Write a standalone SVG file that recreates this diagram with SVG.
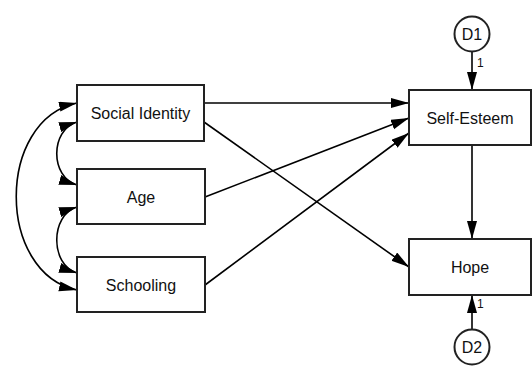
<svg xmlns="http://www.w3.org/2000/svg" width="532" height="369" viewBox="0 0 532 369">
<style>
.box{fill:#fff;stroke:#222;stroke-width:2}
.lbl{font-family:"Liberation Sans",Arial,sans-serif;font-size:16px;fill:#111;text-anchor:middle}
.one{font-family:"Liberation Sans",Arial,sans-serif;font-size:12px;fill:#111}
.ln{fill:none;stroke:#000;stroke-width:1.6}
</style>
<defs>
<marker id="ah" markerUnits="userSpaceOnUse" markerWidth="19" markerHeight="11" refX="18" refY="5" orient="auto-start-reverse">
<path d="M0,0 L18,5 L0,10 z" fill="#000"/>
</marker>
</defs>
<g id="connectors">
<path class="ln" d="M204,103 L409,103" marker-end="url(#ah)"/>
<path class="ln" d="M204,122 L409,267" marker-end="url(#ah)"/>
<path class="ln" d="M205,197 L409,118" marker-end="url(#ah)"/>
<path class="ln" d="M205,285 L409,133" marker-end="url(#ah)"/>
<path class="ln" d="M472,145 L472,239" marker-end="url(#ah)"/>
<path class="ln" d="M472,51 L472,90" marker-end="url(#ah)"/>
<path class="ln" d="M472,329 L472,295" marker-end="url(#ah)"/>
<path class="ln" d="M77,122 C50,130 50,177 77,185" marker-start="url(#ah)" marker-end="url(#ah)"/>
<path class="ln" d="M77,207 C50,215 50,265 77,273" marker-start="url(#ah)" marker-end="url(#ah)"/>
<path class="ln" d="M77,103 C-4,120 -4,273 77,290" marker-start="url(#ah)" marker-end="url(#ah)"/>
<text class="one" x="477" y="67">1</text>
<text class="one" x="477" y="308">1</text>
</g>
<g id="social-identity"><rect class="box" x="77" y="85" width="127" height="56"/><text class="lbl" x="140.5" y="119">Social Identity</text></g>
<g id="age"><rect class="box" x="77" y="169" width="128" height="55"/><text class="lbl" x="141" y="202.5">Age</text></g>
<g id="schooling"><rect class="box" x="77" y="257" width="128" height="55"/><text class="lbl" x="141" y="290.5">Schooling</text></g>
<g id="self-esteem"><rect class="box" x="409" y="90" width="122" height="55"/><text class="lbl" x="470" y="123.5">Self-Esteem</text></g>
<g id="hope"><rect class="box" x="409" y="239" width="122" height="56"/><text class="lbl" x="470" y="272.5">Hope</text></g>
<g id="d1"><circle class="box" cx="472" cy="34" r="17.5"/><text class="lbl" x="472" y="40">D1</text></g>
<g id="d2"><circle class="box" cx="472" cy="347" r="17.5"/><text class="lbl" x="472" y="353">D2</text></g>
</svg>
